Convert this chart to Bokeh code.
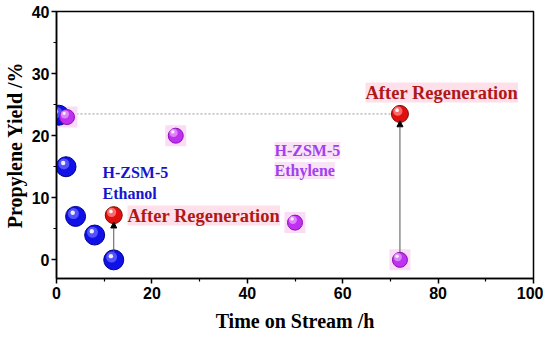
from bokeh.plotting import figure
from bokeh.models import ColumnDataSource, Range1d, Label, Arrow, NormalHead, FixedTicker
from bokeh.transform import dodge
from bokeh.embed import file_html
from bokeh.resources import INLINE

# data
eth_t = [0.5, 2, 4, 8, 12]
eth_y = [23.3, 15, 7, 4, 0]
ethy_t = [2.2, 25, 50, 72]
ethy_y = [23, 20, 6, 0]
reg_t = [12, 72]
reg_y = [7.2, 23.5]
x_ticks = [0, 20, 40, 60, 80, 100]
y_ticks = [0, 10, 20, 30, 40]

p = figure(frame_width=477, frame_height=267, output_backend="svg", toolbar_location=None,
           x_range=Range1d(0, 100), y_range=Range1d(-3, 40),
           min_border_left=51, min_border_right=10, min_border_top=11, min_border_bottom=50)
p.xgrid.visible = False
p.ygrid.visible = False
p.outline_line_color = "black"
p.outline_line_width = 1.5
p.background_fill_color = "white"

for ax in (p.xaxis[0], p.yaxis[0]):
    ax.axis_line_width = 1.5
    ax.major_tick_line_width = 1.5
    ax.minor_tick_line_width = 1.2
    ax.major_tick_out = 5
    ax.major_tick_in = 0
    ax.minor_tick_out = 3
    ax.minor_tick_in = 0
    ax.major_label_text_font = "Liberation Sans"
    ax.major_label_text_font_style = "bold"
    ax.major_label_text_font_size = "16px"
    ax.major_label_text_color = "black"
    ax.axis_label_text_font = "Liberation Serif"
    ax.axis_label_text_font_style = "bold"
    ax.axis_label_text_font_size = "20px"
    ax.axis_label_text_color = "black"

p.xaxis.ticker = FixedTicker(ticks=x_ticks, minor_ticks=[10, 30, 50, 70, 90])
p.yaxis.ticker = FixedTicker(ticks=y_ticks, minor_ticks=[5, 15, 25, 35])
p.xaxis.axis_label = "Time on Stream /h"
p.yaxis.axis_label = "Propylene Yield /%"
p.xaxis.major_label_standoff = 3
p.yaxis.major_label_standoff = 2
p.xaxis.axis_label_standoff = 8
p.yaxis.axis_label_standoff = 3

# dotted reference line
p.line(x=[0, reg_t[1]], y=[reg_y[1], reg_y[1]], line_color="#999999", line_dash="2 2", line_width=1)

# arrows from deactivated points to regenerated points
for t0, y0, y1 in [(eth_t[4], eth_y[4], reg_y[0]), (ethy_t[3], ethy_y[3], reg_y[1])]:
    p.add_layout(Arrow(end=NormalHead(size=6, fill_color="black", line_color="black"),
                       x_start=t0, y_start=y0 + 1.2, x_end=t0, y_end=y1 - 1.1,
                       line_color="#555555", line_width=1))

ethy_src = ColumnDataSource(dict(x=ethy_t, y=ethy_y))
p.scatter("x", "y", source=ethy_src, marker="square", size=21, fill_color="#fbdcf6", line_color=None)

def spheres(xs, ys, base, edge, hi, size):
    src = ColumnDataSource(dict(x=xs, y=ys))
    p.scatter("x", "y", source=src, size=size, fill_color=base, line_color=edge, line_width=1)
    p.scatter(x=dodge("x", -0.45, range=p.x_range), y=dodge("y", 0.45, range=p.y_range), source=src,
              size=size * 0.55, fill_color=hi, line_color=None, fill_alpha=0.75)
    p.scatter(x=dodge("x", -0.6, range=p.x_range), y=dodge("y", 0.6, range=p.y_range), source=src,
              size=size * 0.22, fill_color="white", line_color=None, fill_alpha=0.9)

spheres(eth_t, eth_y, "#1010e8", "#00008b", "#6a6aff", 20)
spheres(ethy_t, ethy_y, "#c030f0", "#8a10b0", "#e8a0ff", 15)
spheres(reg_t, reg_y, "#e01010", "#7a1000", "#ff8a8a", 17)

def label(x, y, text, color, size, bg=None):
    lab = Label(x=x, y=y, text=text, text_color=color, text_font="Liberation Serif",
                text_font_style="bold", text_font_size=size, text_baseline="middle",
                x_units="screen", y_units="screen")
    if bg:
        lab.background_fill_color = bg
    p.add_layout(lab)

# labels (screen offsets from the frame's lower-left corner)
label(102 - 56, 280 - 174, "H-ZSM-5", "#1515d0", "16px")
label(102 - 56, 280 - 195, "Ethanol", "#1515d0", "16px")
label(274 - 56, 280 - 152, "H-ZSM-5", "#a040f0", "16px", bg="#fbe3f6")
label(274 - 56, 280 - 172, "Ethylene", "#a040f0", "16px", bg="#fbe3f6")
label(127 - 56, 280 - 217, "After Regeneration", "#b01818", "18.5px", bg="#fde0ea")
label(365 - 56, 280 - 94, "After Regeneration", "#b01818", "18.5px", bg="#fde0ea")

open("out.html", "w").write(file_html(p, INLINE))
